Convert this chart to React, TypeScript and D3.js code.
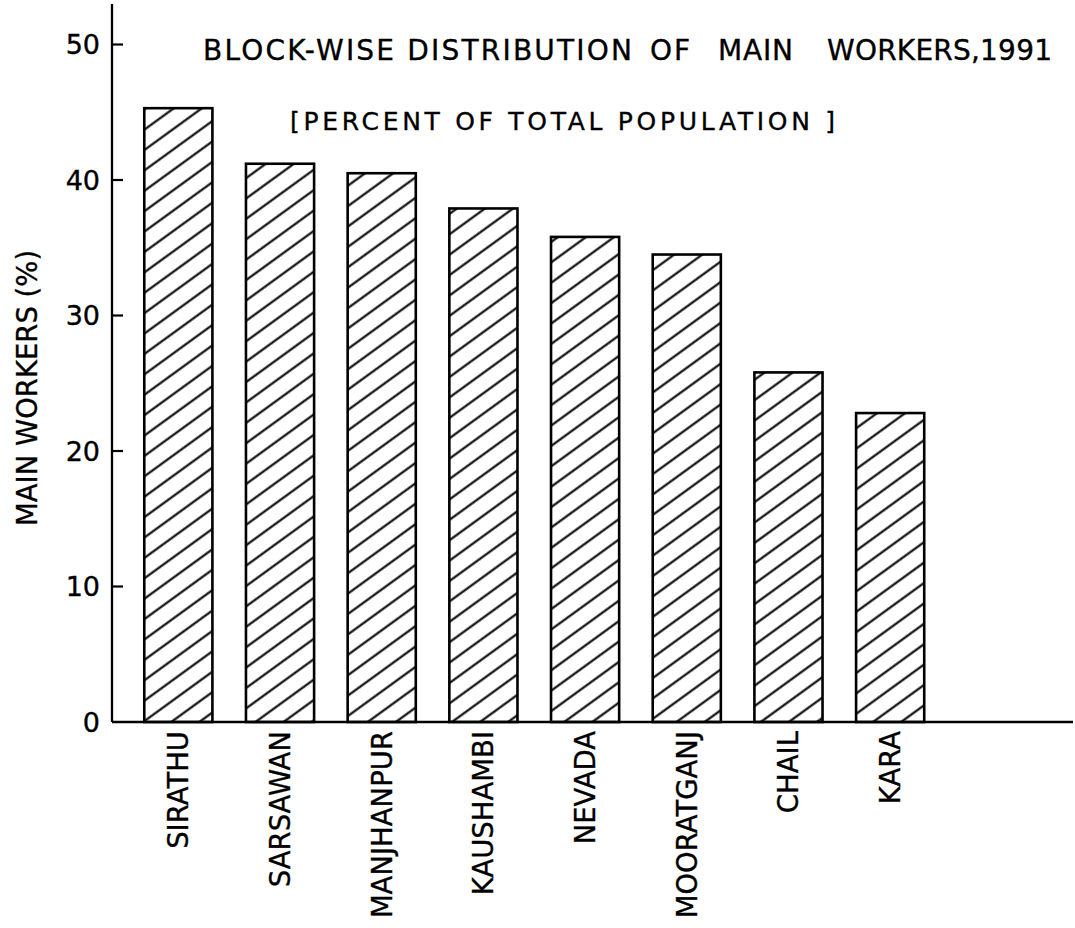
import React from "react";
import * as d3 from "d3";

const blocks: string[] = [
  "SIRATHU",
  "SARSAWAN",
  "MANJHANPUR",
  "KAUSHAMBI",
  "NEVADA",
  "MOORATGANJ",
  "CHAIL",
  "KARA",
];
const mainWorkersPct: number[] = [45.3, 41.2, 40.5, 37.9, 35.8, 34.5, 25.8, 22.8];
const yTicks: number[] = [0, 10, 20, 30, 40, 50];
const titleWords: string[] = ["BLOCK-WISE DISTRIBUTION", "OF", "MAIN", "WORKERS,1991"];
const subtitle = "[PERCENT OF TOTAL POPULATION ]";
const yLabel = "MAIN WORKERS (%)";

const W = 1075;
const H = 928;
const FONT = "'DejaVu Sans', 'Liberation Sans', sans-serif";
const INK = "#000";

export default function App() {
  const axisX = 112;
  const axisY = 722;
  const y = d3.scaleLinear().domain([0, 50]).range([axisY, 44.5]);
  const x = d3
    .scaleBand<string>()
    .domain(blocks)
    .range([127.5, 941])
    .paddingInner(0.33)
    .paddingOuter(0.165);

  const titleX = [203, 650, 718, 827];
  const titleLen = [429, 40, 75, 225];
  const textStroke = { stroke: INK, strokeWidth: 0.35 };

  return (
    <div style={{ position: "absolute", left: 0, top: 0 }}>
      <svg width={W} height={H} viewBox={`0 0 ${W} ${H}`} style={{ display: "block", background: "#fff" }}>
        <defs>
          <pattern
            id="hatch"
            patternUnits="userSpaceOnUse"
            width={16.5}
            height={16.5}
            patternTransform="rotate(-36)"
          >
            <line x1={-2} y1={8.25} x2={18.5} y2={8.25} stroke={INK} strokeWidth={2.1} />
          </pattern>
        </defs>

        {/* bars */}
        {blocks.map((b, i) => (
          <rect
            key={b}
            x={x(b)}
            y={y(mainWorkersPct[i])}
            width={x.bandwidth()}
            height={axisY - y(mainWorkersPct[i])}
            fill="url(#hatch)"
            stroke={INK}
            strokeWidth={2.6}
          />
        ))}

        {/* axes */}
        <line x1={axisX} y1={4} x2={axisX} y2={axisY} stroke={INK} strokeWidth={2.3} />
        <line x1={axisX} y1={axisY} x2={1073} y2={axisY} stroke={INK} strokeWidth={2.3} />

        {yTicks.map((t) => (
          <g key={t}>
            {t > 0 && (
              <line x1={axisX} y1={y(t)} x2={axisX + 11} y2={y(t)} stroke={INK} strokeWidth={2.2} />
            )}
            <text
              x={100}
              y={y(t)}
              dy="0.36em"
              textAnchor="end"
              fontFamily={FONT}
              fontSize={27}
              fill={INK}
              {...textStroke}
            >
              {t}
            </text>
          </g>
        ))}

        {/* category labels */}
        {blocks.map((b) => {
          const cx = (x(b) as number) + x.bandwidth() / 2 + 10;
          return (
            <text
              key={b}
              transform={`translate(${cx},731) rotate(-90)`}
              textAnchor="end"
              fontFamily={FONT}
              fontSize={27.5}
              fill={INK}
              {...textStroke}
            >
              {b}
            </text>
          );
        })}

        {/* y label */}
        <text
          transform="translate(37,526) rotate(-90)"
          textAnchor="start"
          fontFamily={FONT}
          fontSize={27.5}
          fill={INK}
          {...textStroke}
        >
          {yLabel}
        </text>

        {/* title */}
        {titleWords.map((w, i) => (
          <text
            key={w}
            x={titleX[i]}
            y={60}
            fontFamily={FONT}
            fontSize={28}
            fill={INK}
            textLength={titleLen[i]}
            lengthAdjust="spacing"
            {...textStroke}
          >
            {w}
          </text>
        ))}
        <text
          x={290}
          y={130}
          fontFamily={FONT}
          fontSize={25}
          fill={INK}
          textLength={545}
          lengthAdjust="spacing"
          style={{ whiteSpace: "pre" }}
          {...textStroke}
        >
          {subtitle}
        </text>
      </svg>
    </div>
  );
}
